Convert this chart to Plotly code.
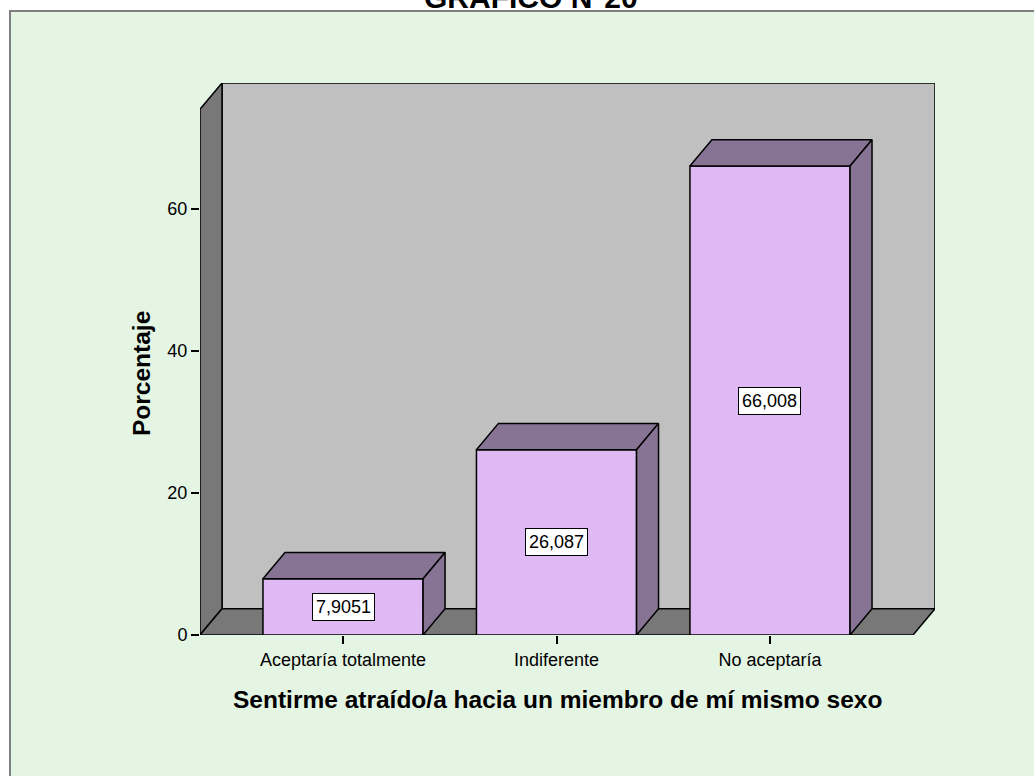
import plotly.graph_objects as go

# Datos del gráfico
categorias = ['Aceptaría totalmente', 'Indiferente', 'No aceptaría']
porcentajes = [7.9051, 26.087, 66.008]
ticks_y = [0, 20, 40, 60]

# Geometría del efecto 3D (en unidades de los ejes)
ANCHO = 0.75
X0, X1 = -0.67, 2.67      # plano frontal del suelo
Y_TOP = 74.0              # alto de la pared frontal
DX, DY = 0.103, 3.7       # desplazamiento de profundidad

# Colores estilo SPSS
FONDO = '#e4f5e4'
PARED = '#c0c0c0'
SUELO = '#787878'
FRENTE = '#dfb9f4'
LADO = '#877394'
FUENTE = 'Liberation Sans, Arial'

# Márgenes en píxeles para colocar textos fuera del área de trazado
W, H = 1034, 776
ML, MR, MT, MB = 200, 99, 83, 141
PW, PH = W - ML - MR, H - MT - MB


def px_x(px):
    return (px - ML) / PW


def px_y(py):
    return (H - MB - py) / PH


fig = go.Figure()

# Caras frontales de las barras
xs = list(range(len(categorias)))
fig.add_trace(go.Bar(x=xs, y=porcentajes, width=ANCHO,
                     marker=dict(color=FRENTE, line=dict(color='black', width=1.5)),
                     hoverinfo='skip', showlegend=False))

# Caras superior y lateral de cada barra
for x, v in zip(xs, porcentajes):
    izq, der = x - ANCHO / 2, x + ANCHO / 2
    fig.add_trace(go.Scatter(x=[izq, der, der + DX, izq + DX, izq],
                             y=[v, v, v + DY, v + DY, v],
                             fill='toself', fillcolor=LADO, mode='lines',
                             line=dict(color='black', width=1.5),
                             hoverinfo='skip', showlegend=False))
    fig.add_trace(go.Scatter(x=[der, der + DX, der + DX, der, der],
                             y=[0, DY, v + DY, v, 0],
                             fill='toself', fillcolor=LADO, mode='lines',
                             line=dict(color='black', width=1.5),
                             hoverinfo='skip', showlegend=False))

# Marco de fondo, pared trasera, pared izquierda y suelo
shapes = [
    dict(type='rect', xref='paper', yref='paper', layer='below',
         x0=px_x(10), x1=px_x(1060), y0=px_y(800), y1=px_y(11),
         fillcolor=FONDO, line=dict(color='#7f7f7f', width=2)),
    dict(type='rect', xref='x', yref='y', layer='below',
         x0=X0 + DX, x1=X1 + DX, y0=DY, y1=Y_TOP + DY,
         fillcolor=PARED, line=dict(color='black', width=1.5)),
    dict(type='path', xref='x', yref='y', layer='below',
         path=f'M {X0},0 L {X0},{Y_TOP} L {X0 + DX},{Y_TOP + DY} L {X0 + DX},{DY} Z',
         fillcolor=SUELO, line=dict(color='black', width=1.5)),
    dict(type='path', xref='x', yref='y', layer='below',
         path=f'M {X0},0 L {X1},0 L {X1 + DX},{DY} L {X0 + DX},{DY} Z',
         fillcolor=SUELO, line=dict(color='black', width=1.5)),
]

# Etiquetas de valor en el centro de cada barra
annotations = []
for x, v in zip(xs, porcentajes):
    annotations.append(dict(x=x, y=v / 2, xref='x', yref='y', showarrow=False,
                            text=str(v).replace('.', ','),
                            font=dict(family=FUENTE, size=18, color='black'),
                            bgcolor='white', bordercolor='black', borderwidth=1, borderpad=3))

# Títulos
annotations += [
    dict(x=px_x(531), y=px_y(16), xref='paper', yref='paper', showarrow=False,
         xanchor='center', yanchor='bottom', text='<b>GRÁFICO N°20</b>',
         font=dict(family=FUENTE, size=30, color='black')),
    dict(x=px_x(557), y=px_y(699), xref='paper', yref='paper', showarrow=False,
         xanchor='center', yanchor='middle',
         text='<b>Sentirme atraído/a hacia un miembro de mí mismo sexo</b>',
         font=dict(family=FUENTE, size=24.5, color='black')),
    dict(x=px_x(141), y=px_y(374), xref='paper', yref='paper', showarrow=False,
         xanchor='center', yanchor='middle', textangle=-90, text='<b>Porcentaje</b>',
         font=dict(family=FUENTE, size=24.5, color='black')),
]

fig.update_layout(
    width=W, height=H, autosize=False,
    margin=dict(l=ML, r=MR, t=MT, b=MB),
    paper_bgcolor='white', plot_bgcolor='rgba(0,0,0,0)',
    shapes=shapes, annotations=annotations,
    xaxis=dict(range=[X0, X1 + DX], tickvals=xs, ticktext=categorias,
               ticks='outside', ticklen=8, tickcolor='black', tickwidth=1.5,
               showgrid=False, zeroline=False, showline=False, fixedrange=True,
               tickfont=dict(family=FUENTE, size=18, color='black')),
    yaxis=dict(range=[0, Y_TOP + DY], tickvals=ticks_y,
               ticks='outside', ticklen=8, tickcolor='black', tickwidth=1.5,
               showgrid=False, zeroline=False, showline=False, fixedrange=True,
               tickfont=dict(family=FUENTE, size=18, color='black')),
)

# Sin margen en la página para que la figura ocupe la ventana entera
fig.write_html("out.html", config={'displayModeBar': False},
               post_script="document.body.style.margin = '0';")
